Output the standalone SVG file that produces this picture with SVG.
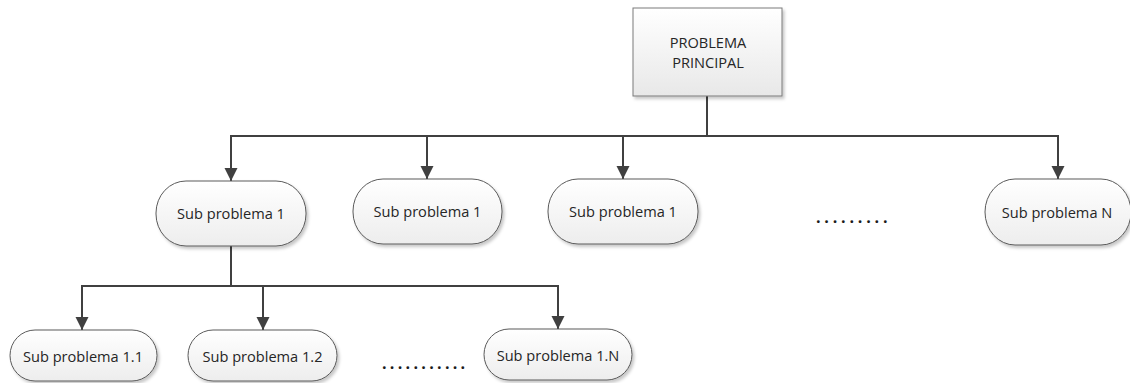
<svg xmlns="http://www.w3.org/2000/svg" width="1130" height="383" viewBox="0 0 1130 383">
  <defs>
    <linearGradient id="gNode" x1="0" y1="0" x2="0" y2="1">
      <stop offset="0" stop-color="#ffffff"/>
      <stop offset="1" stop-color="#ededed"/>
    </linearGradient>
    <linearGradient id="gBox" x1="0" y1="0" x2="0" y2="1">
      <stop offset="0" stop-color="#ffffff"/>
      <stop offset="1" stop-color="#e8e8e8"/>
    </linearGradient>
    <filter id="shadow" x="-10%" y="-10%" width="130%" height="140%">
      <feDropShadow dx="2" dy="2.5" stdDeviation="1.5" flood-color="#000" flood-opacity="0.22"/>
    </filter>
    <marker id="arrow" markerUnits="userSpaceOnUse" markerWidth="14" markerHeight="14" viewBox="0 0 14 14" refX="13" refY="7" orient="auto">
      <path d="M0,0.5 L13,7 L0,13.5 Z" fill="#404040"/>
    </marker>
  </defs>
  <style>
    .node { fill: url(#gNode); stroke: #5a5a5a; stroke-width: 1; filter: url(#shadow); }
    .box { fill: url(#gBox); stroke: #7a7a7a; stroke-width: 1; filter: url(#shadow); }
    .lbl { font-family: "Open Sans", "Liberation Sans", sans-serif; font-size: 14.6px; fill: #262626; text-anchor: middle; }
    .line { fill: none; stroke: #404040; stroke-width: 2; }
    .arr { fill: none; stroke: #404040; stroke-width: 2; marker-end: url(#arrow); }
    .dots { font-family: "Open Sans", "Liberation Sans", sans-serif; font-weight: bold; font-size: 16px; fill: #1a1a1a; }
  </style>

  <g id="connectors">
    <path class="line" d="M707,96 V136"/>
    <path class="line" d="M230,136 H1059"/>
    <path class="arr" d="M231,136 V181"/>
    <path class="arr" d="M427,136 V179"/>
    <path class="arr" d="M623,136 V179"/>
    <path class="arr" d="M1058,136 V179"/>
    <path class="line" d="M231,246 V286"/>
    <path class="line" d="M81,286 H559"/>
    <path class="arr" d="M82,286 V330"/>
    <path class="arr" d="M263,286 V330"/>
    <path class="arr" d="M558,286 V329"/>
  </g>

  <g id="principal">
    <rect class="box" x="633" y="8" width="149" height="88"/>
    <text class="lbl" x="708" y="48">PROBLEMA</text>
    <text class="lbl" x="708" y="68">PRINCIPAL</text>
  </g>

  <g id="sub1">
    <rect class="node" x="156" y="181" width="150" height="65" rx="30" ry="32"/>
    <text class="lbl" x="231" y="219">Sub problema 1</text>
  </g>
  <g id="sub2">
    <rect class="node" x="353" y="179" width="149" height="65" rx="30" ry="32"/>
    <text class="lbl" x="427.5" y="217">Sub problema 1</text>
  </g>
  <g id="sub3">
    <rect class="node" x="548" y="179" width="150" height="65" rx="30" ry="32"/>
    <text class="lbl" x="623" y="217">Sub problema 1</text>
  </g>
  <g id="dots-top">
    <text class="dots" x="816" y="223" letter-spacing="3.8">.........</text>
  </g>
  <g id="subN">
    <rect class="node" x="985" y="179" width="146" height="66" rx="30" ry="33"/>
    <text class="lbl" x="1057" y="217.5">Sub problema N</text>
  </g>

  <g id="sub1-1">
    <rect class="node" x="10" y="330" width="147" height="51" rx="25" ry="25.5"/>
    <text class="lbl" x="83" y="361.5">Sub problema 1.1</text>
  </g>
  <g id="sub1-2">
    <rect class="node" x="188" y="330" width="149" height="51" rx="25" ry="25.5"/>
    <text class="lbl" x="262.5" y="361.5">Sub problema 1.2</text>
  </g>
  <g id="dots-bottom">
    <text class="dots" x="382" y="369" letter-spacing="3.3">...........</text>
  </g>
  <g id="sub1-N">
    <rect class="node" x="484" y="329" width="148" height="51" rx="25" ry="25.5"/>
    <text class="lbl" x="558" y="360.5">Sub problema 1.N</text>
  </g>
</svg>
